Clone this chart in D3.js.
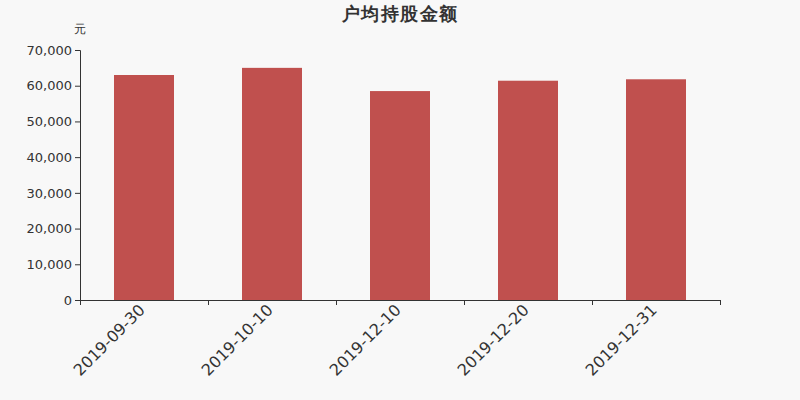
<!DOCTYPE html>
<html><head><meta charset="utf-8">
<script src="https://cdn.jsdelivr.net/npm/d3@7"></script>
<style>body{margin:0;background:#f8f8f8;}svg{display:block;font-family:"DejaVu Sans",sans-serif;}</style>
</head><body><svg id="c" width="800" height="400"></svg>
<script>
const categories = ["2019-09-30","2019-10-10","2019-12-10","2019-12-20","2019-12-31"];
const values = [63000, 65000, 58500, 61400, 61800];
const yTicks = [0,10000,20000,30000,40000,50000,60000,70000];
const title = "户均持股金额";
const unit = "元";

const svg = d3.select("#c");
svg.append("rect").attr("width",800).attr("height",400).attr("fill","#f8f8f8");
const x = d3.scaleBand().domain(categories).range([80,720]).padding(0);
const y = d3.scaleLinear().domain([0,70000]).range([300,50]);

svg.append("text").attr("x",400).attr("y",20).attr("text-anchor","middle")
  .attr("font-size",18).attr("letter-spacing",1.5).attr("font-weight","bold").attr("fill","#333").text(title);
svg.append("text").attr("x",80).attr("y",33).attr("text-anchor","middle")
  .attr("font-size",12).attr("fill","#333").text(unit);

const bw = x.bandwidth()*60/128;
svg.selectAll("rect.bar").data(values).join("rect").attr("class","bar")
  .attr("x",(d,i)=>x(categories[i])+x.bandwidth()/2-bw/2)
  .attr("y",d=>y(d)).attr("width",bw).attr("height",d=>300-y(d))
  .attr("fill","#c0504e");

const ya = svg.append("g").attr("transform","translate(80,0)")
  .call(d3.axisLeft(y).tickValues(yTicks).tickSize(5).tickPadding(3).tickFormat(d3.format(",")));
ya.selectAll("text").attr("font-size",13).attr("fill","#333").attr("font-family","DejaVu Sans");
ya.selectAll("line,path").attr("stroke","#333");

const xa = svg.append("g").attr("transform","translate(0,300)")
  .call(d3.axisBottom(x).tickSize(0).tickFormat(""));
xa.select("path").attr("stroke","#333").attr("d","M80,0.5H720");
const bounds = [80].concat(categories.map(c=>x(c)+x.bandwidth()));
svg.selectAll("line.xt").data(bounds).join("line").attr("class","xt")
  .attr("x1",d=>d+0.5).attr("x2",d=>d+0.5).attr("y1",300).attr("y2",305).attr("stroke","#333");
svg.selectAll("text.xl").data(categories).join("text").attr("class","xl")
  .attr("transform",d=>`translate(${x(d)+x.bandwidth()/2+2},${311}) rotate(-45)`)
  .attr("text-anchor","end").attr("font-size",16).attr("fill","#333").text(d=>d);
</script></body></html>
